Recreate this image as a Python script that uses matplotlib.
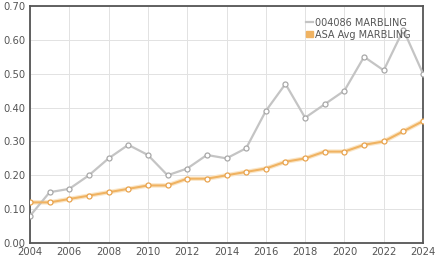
import matplotlib
matplotlib.use("Agg")
import matplotlib.pyplot as plt
from matplotlib.patches import Patch
from matplotlib.lines import Line2D

years = list(range(2004, 2025))
sire_marbling = [0.08, 0.15, 0.16, 0.20, 0.25, 0.29, 0.26, 0.20, 0.22, 0.26, 0.25,
                 0.28, 0.39, 0.47, 0.37, 0.41, 0.45, 0.55, 0.51, 0.63, 0.50]
asa_marbling = [0.12, 0.12, 0.13, 0.14, 0.15, 0.16, 0.17, 0.17, 0.19, 0.19, 0.20,
                0.21, 0.22, 0.24, 0.25, 0.27, 0.27, 0.29, 0.30, 0.33, 0.36]
series_labels = ["004086 MARBLING", "ASA Avg MARBLING"]

gray = "#c4c4c4"
orange = "#f0b362"

fig = plt.figure(figsize=(4.39, 2.62), dpi=100)
ax = fig.add_axes([0.0683, 0.0725, 0.8953, 0.9045])

# faint glow under orange line
ax.plot(years, asa_marbling, color="#fae6c8", lw=3.2, zorder=2, solid_capstyle="round")
ax.plot(years, sire_marbling, color=gray, lw=1.6, marker="o", ms=3.6,
        mfc="white", mec="#a8a8a8", mew=0.9, zorder=3)
ax.plot(years, asa_marbling, color=orange, lw=1.5, marker="o", ms=3.6,
        mfc="white", mec="#e8a450", mew=0.9, zorder=4)

ax.set_xlim(2004, 2024)
ax.set_ylim(0, 0.70)
ax.set_xticks(range(2004, 2025, 2))
ax.set_yticks([i / 10 for i in range(8)])
ax.set_yticklabels([f"{i / 10:.2f}" for i in range(8)])
ax.grid(True, color="#e2e2e2", lw=0.7)
ax.set_axisbelow(True)
for s in ax.spines.values():
    s.set_color("#555555")
    s.set_linewidth(1.3)
ax.tick_params(length=0, labelsize=7.2, colors="#555555", pad=3)

handles = [Line2D([], [], color=gray, lw=1.6),
           Patch(facecolor=orange, edgecolor=orange)]
leg = ax.legend(handles, series_labels, loc="upper right", frameon=False,
                fontsize=7, handlelength=0.7, handleheight=0.6, handletextpad=0.2,
                borderaxespad=0.3, labelspacing=0.2,
                bbox_to_anchor=(0.985, 0.98))
for t in leg.get_texts():
    t.set_color("#555555")

fig.savefig("out.png", dpi=100)
